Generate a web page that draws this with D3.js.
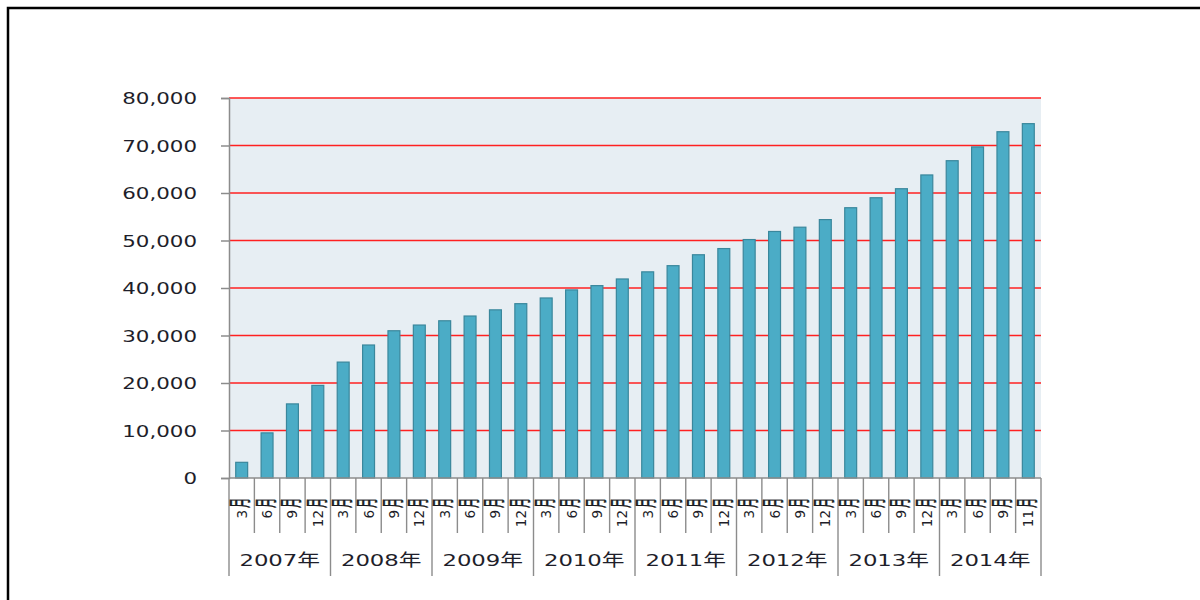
<!DOCTYPE html>
<html>
<head>
<meta charset="utf-8">
<script src="https://cdn.jsdelivr.net/npm/d3@7/dist/d3.min.js"></script>
<style>
html,body{margin:0;padding:0;background:#fff;overflow:hidden}
text{font-family:"DejaVu Sans","Noto Sans CJK SC",sans-serif;fill:#1e1e2a}
</style>
</head>
<body>
<svg id="chart" width="1200" height="600"></svg>
<script>
const years = ["2007年","2008年","2009年","2010年","2011年","2012年","2013年","2014年"];
const months = [
  ["3","6","9","12"],["3","6","9","12"],["3","6","9","12"],["3","6","9","12"],
  ["3","6","9","12"],["3","6","9","12"],["3","6","9","12"],["3","6","9","11"]
];
const values = [
  3300, 9500, 15600, 19500,
  24400, 28000, 31000, 32200,
  33100, 34100, 35400, 36700,
  37900, 39600, 40500, 41900,
  43400, 44700, 47000, 48300,
  50200, 51900, 52800, 54400,
  56900, 59000, 60900, 63800,
  66800, 69700, 72900, 74600
];
const yTicks = [0,10000,20000,30000,40000,50000,60000,70000,80000];

const cats = [];
years.forEach((y,i)=>months[i].forEach(m=>cats.push({year:y, month:m, key:y+"-"+m})));
cats.forEach((c,i)=>c.value=values[i]);

const svg = d3.select("#chart");
const L=229, R=1041, T=98, B=478;

// outer frame
svg.append("rect").attr("x",8).attr("y",8).attr("width",1400).attr("height",800)
  .attr("fill","none").attr("stroke","#000").attr("stroke-width",2.5);

const x = d3.scaleBand().domain(cats.map(c=>c.key)).range([L,R]).paddingInner(0.53).paddingOuter(0.265);
const xOuter = d3.scaleBand().domain(cats.map(c=>c.key)).range([L,R]).padding(0);
const y = d3.scaleLinear().domain([0,80000]).range([B,T]);

// plot background
svg.append("rect").attr("x",L).attr("y",T).attr("width",R-L).attr("height",B-T).attr("fill","#e7eef3");

// gridlines
svg.append("g").selectAll("line").data(yTicks.filter(d=>d>0)).join("line")
  .attr("x1",L).attr("x2",R).attr("y1",d=>y(d)).attr("y2",d=>y(d))
  .attr("stroke","#ff2020").attr("stroke-width",1.3);

// bars
svg.append("g").selectAll("rect").data(cats).join("rect")
  .attr("x",d=>x(d.key)).attr("width",x.bandwidth())
  .attr("y",d=>y(d.value)).attr("height",d=>B-y(d.value))
  .attr("fill","#4bacc6").attr("stroke","#3a879c").attr("stroke-width",1.2);

// y axis
const yAxis = svg.append("g").attr("transform",`translate(${L},0)`)
  .call(d3.axisLeft(y).tickValues(yTicks).tickSize(8).tickPadding(0).tickFormat(d3.format(",")));
yAxis.select(".domain").attr("stroke","#8c8c8c").attr("stroke-width",1.5);
yAxis.selectAll(".tick line").attr("stroke","#8c8c8c").attr("stroke-width",1.5);
yAxis.selectAll(".tick text").attr("x",0).attr("font-size",15.5).attr("fill","#1e1e2a")
  .attr("text-anchor","end").attr("dy","0.36em")
  .attr("transform","translate(-32,0) scale(1.38,1)");

// x axis line
svg.append("line").attr("x1",L).attr("x2",R).attr("y1",B).attr("y2",B)
  .attr("stroke","#8c8c8c").attr("stroke-width",1.5);

// category separators
const sep = svg.append("g");
cats.forEach((c,i)=>{
  const xl = xOuter(c.key);
  const isYear = (i%4===0);
  sep.append("line").attr("x1",xl).attr("x2",xl).attr("y1",B).attr("y2",isYear?576:533)
    .attr("stroke","#8c8c8c").attr("stroke-width",1.4);
});
sep.append("line").attr("x1",R).attr("x2",R).attr("y1",B).attr("y2",576)
  .attr("stroke","#8c8c8c").attr("stroke-width",1.4);

// month labels (rotated)
const ml = svg.append("g");
cats.forEach(c=>{
  const cx = xOuter(c.key)+xOuter.bandwidth()/2;
  const g = ml.append("g").attr("transform",`translate(${cx},497) rotate(-90)`);
  g.append("g").attr("transform","translate(-11,-1) scale(0.85,1.9)")
    .append("text").text("月").attr("x",0).attr("y",0)
    .attr("font-size",12).attr("dominant-baseline","central")
    .attr("fill","#111").attr("stroke","#111").attr("stroke-width",0.3);
  g.append("text").text(c.month).attr("x",-13).attr("y",0)
    .attr("text-anchor","end").attr("font-size",13.5).attr("dominant-baseline","central")
    .attr("fill","#2a2a6a");
});

// year labels
const yl = svg.append("g");
years.forEach((yr,i)=>{
  const x0 = xOuter(cats[i*4].key), x1 = xOuter(cats[i*4+3].key)+xOuter.bandwidth();
  yl.append("text").text(yr).attr("text-anchor","middle").attr("font-size",16.5)
    .attr("transform",`translate(${(x0+x1)/2},566) scale(1.38,1)`);
});
</script>
</body>
</html>
